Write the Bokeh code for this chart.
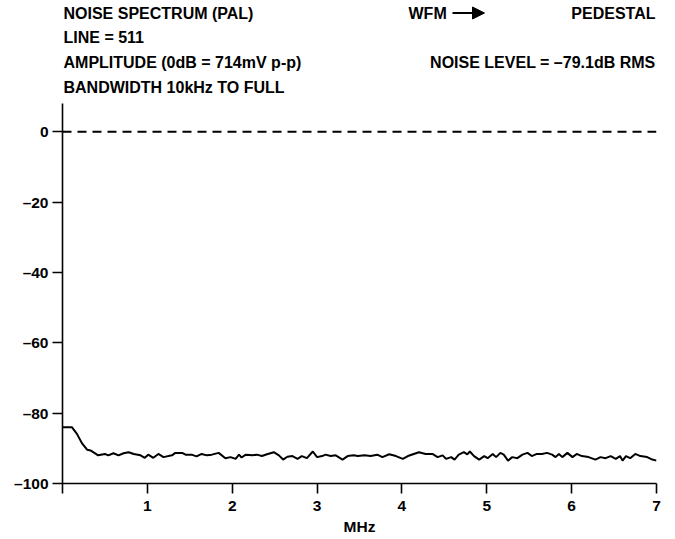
from bokeh.plotting import figure
from bokeh.layouts import column
from bokeh.models import Range1d, FixedTicker, Span, Arrow, NormalHead
from bokeh.core.properties import value
from bokeh.embed import file_html
from bokeh.resources import INLINE

# ---- data ----
freq_mhz = [
    0.00, 0.11, 0.17, 0.23, 0.29, 0.33, 0.42, 0.50, 0.54, 0.60,
    0.66, 0.72, 0.78, 0.84, 0.92, 0.97, 1.01, 1.07, 1.13, 1.19,
    1.29, 1.33, 1.41, 1.45, 1.52, 1.58, 1.64, 1.70, 1.76, 1.84,
    1.92, 1.98, 2.04, 2.08, 2.11, 2.16, 2.24, 2.29, 2.35, 2.41,
    2.49, 2.55, 2.60, 2.65, 2.71, 2.77, 2.82, 2.88, 2.95, 3.00,
    3.06, 3.10, 3.16, 3.22, 3.30, 3.36, 3.43, 3.48, 3.56, 3.63,
    3.71, 3.77, 3.85, 3.93, 4.01, 4.07, 4.14, 4.20, 4.28, 4.36,
    4.42, 4.48, 4.52, 4.58, 4.62, 4.67, 4.73, 4.77, 4.80, 4.85,
    4.91, 4.97, 5.01, 5.07, 5.11, 5.16, 5.20, 5.25, 5.30, 5.36,
    5.42, 5.48, 5.53, 5.59, 5.65, 5.71, 5.77, 5.81, 5.85, 5.89,
    5.95, 6.01, 6.06, 6.12, 6.20, 6.28, 6.34, 6.40, 6.46, 6.52,
    6.57, 6.60, 6.64, 6.69, 6.75, 6.81, 6.89, 6.95, 7.00,
]
noise_db = [
    -84.0, -84.0, -85.9, -88.6, -90.4, -90.6, -92.0, -91.6, -92.0, -91.4,
    -92.0, -91.4, -91.1, -91.6, -92.0, -92.7, -91.8, -92.7, -91.6, -92.5,
    -92.0, -91.3, -91.3, -91.8, -91.8, -92.3, -91.6, -92.0, -91.8, -91.3,
    -92.8, -92.5, -93.0, -91.8, -92.6, -91.8, -92.0, -91.8, -92.2, -91.7,
    -91.1, -92.0, -93.2, -92.4, -92.2, -93.0, -92.2, -92.8, -90.9, -92.5,
    -92.2, -91.8, -92.2, -92.0, -93.2, -92.2, -92.0, -92.2, -92.0, -92.2,
    -91.8, -92.5, -91.7, -92.2, -93.0, -92.2, -91.6, -91.1, -91.6, -91.6,
    -92.5, -92.0, -93.0, -92.5, -93.2, -91.8, -91.1, -91.7, -90.9, -92.2,
    -93.2, -92.2, -92.8, -91.6, -92.5, -91.3, -91.8, -93.5, -92.5, -92.8,
    -91.8, -91.3, -92.2, -91.6, -91.6, -91.3, -91.8, -92.5, -91.6, -92.5,
    -91.3, -92.5, -91.6, -92.2, -92.5, -93.2, -92.5, -92.8, -92.2, -93.0,
    -92.2, -93.5, -92.2, -92.8, -91.6, -92.2, -92.5, -93.2, -93.5,
]
x_ticks = [0, 1, 2, 3, 4, 5, 6, 7]
y_ticks = [0, -20, -40, -60, -80, -100]
reference_db = 0
header_left = ["NOISE SPECTRUM (PAL)", "LINE = 511",
               "AMPLITUDE (0dB = 714mV p-p)", "BANDWIDTH 10kHz TO FULL"]
header_right = ["PEDESTAL", "NOISE LEVEL = \u201379.1dB RMS"]
arrow_text = ["WFM"]
x_title = "MHz"

FONT = "Liberation Sans"
W = 675
FRAME_L, FRAME_R = 62, 656   # page pixels spanned by the plot frame

# ---- header (text block above the plot) ----
hdr = figure(width=W, height=103, output_backend="svg", toolbar_location=None,
             x_range=Range1d(FRAME_L, FRAME_R), y_range=Range1d(103, 0),
             x_axis_location=None, y_axis_location=None,
             min_border_left=FRAME_L, min_border_right=W - FRAME_R,
             min_border_top=0, min_border_bottom=0)
hdr.outline_line_color = None
hdr.grid.visible = False

row_y = [12.5, 37, 62, 86.5]
hdr.text(x=[63] * len(header_left), y=row_y, text=header_left,
         text_font=value(FONT), text_font_style="bold", text_font_size="16px",
         text_baseline="middle", text_align="left", text_color="black")
hdr.text(x=[655, 655], y=[row_y[0], row_y[2]], text=header_right,
         text_font=value(FONT), text_font_style="bold", text_font_size="16px",
         text_baseline="middle", text_align="right", text_color="black")
hdr.text(x=[408], y=[row_y[0]], text=arrow_text,
         text_font=value(FONT), text_font_style="bold", text_font_size="16px",
         text_baseline="middle", text_align="left", text_color="black")
hdr.add_layout(Arrow(x_start=452, y_start=row_y[0], x_end=484, y_end=row_y[0],
                     line_color="black", line_width=2,
                     end=NormalHead(size=12, fill_color="black", line_color="black")))

# ---- main plot ----
p = figure(width=W, height=539 - 103, output_backend="svg", toolbar_location=None,
           x_range=Range1d(0, 7), y_range=Range1d(-100, 8),
           min_border_left=FRAME_L, min_border_right=W - FRAME_R,
           min_border_top=0, min_border_bottom=56)
p.outline_line_color = None
p.grid.visible = False

for ax in (p.xaxis[0], p.yaxis[0]):
    ax.axis_line_width = 1.6
    ax.axis_line_color = "black"
    ax.major_tick_line_width = 1.6
    ax.major_tick_line_color = "black"
    ax.major_tick_out = 10
    ax.major_tick_in = 0
    ax.minor_tick_out = 0
    ax.minor_tick_in = 0
    ax.major_label_text_font = FONT
    ax.major_label_text_font_style = "bold"
    ax.major_label_text_font_size = "15.5px"
    ax.major_label_text_color = "black"

p.xaxis[0].ticker = FixedTicker(ticks=x_ticks)
p.xaxis[0].major_label_overrides = {0: ""}
p.xaxis[0].major_label_standoff = 7
p.xaxis[0].axis_label = x_title
p.xaxis[0].axis_label_text_font = FONT
p.xaxis[0].axis_label_text_font_style = "bold"
p.xaxis[0].axis_label_text_font_size = "15.5px"
p.xaxis[0].axis_label_text_color = "black"
p.xaxis[0].axis_label_standoff = 4

p.yaxis[0].ticker = FixedTicker(ticks=y_ticks)
p.yaxis[0].major_label_overrides = {t: str(t).replace("-", "\u2013") for t in y_ticks}
p.yaxis[0].major_label_standoff = 4

p.add_layout(Span(location=reference_db, dimension="width", line_color="black",
                  line_width=2, line_dash="9 6"))

p.line(freq_mhz, noise_db, line_color="black", line_width=2)

layout = column(hdr, p, spacing=0)
open("out.html", "w").write(file_html(layout, INLINE))
